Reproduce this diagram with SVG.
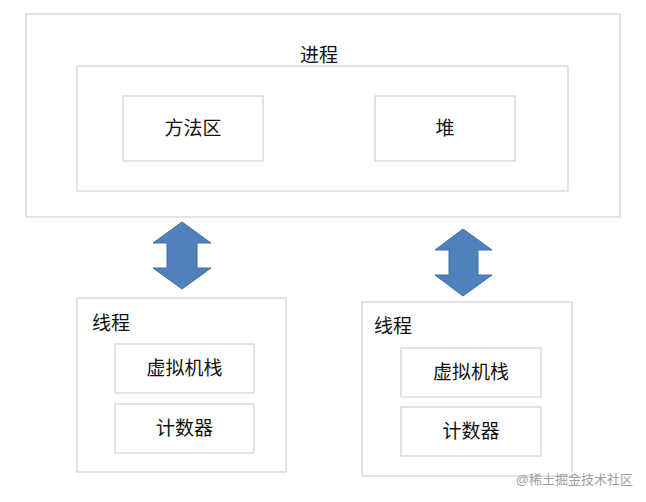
<svg xmlns="http://www.w3.org/2000/svg" width="646" height="502" viewBox="0 0 646 502">
<style>
.b{fill:#fff;stroke:#c8c8c8;stroke-width:1}
.t{font-family:"Liberation Sans","Noto Sans CJK SC",sans-serif;font-size:19px;fill:#111}
.ar{fill:#4f81bd;stroke:#41719c;stroke-width:1}
</style>
<rect width="646" height="502" fill="#fff"/>
<g id="process"><rect class="b" x="26" y="14" width="594" height="203"/><text class="t" x="319" y="62" text-anchor="middle">进程</text></g>
<g id="shared"><rect class="b" x="77" y="66" width="491" height="125"/></g>
<g id="method"><rect class="b" x="123" y="96" width="140" height="65"/><text class="t" x="193" y="135" text-anchor="middle">方法区</text></g>
<g id="heap"><rect class="b" x="375" y="96" width="140" height="65"/><text class="t" x="445" y="135" text-anchor="middle">堆</text></g>
<g id="connectors">
<path class="ar" d="M182,222 L211,243 L197,243 L197,268 L211,268 L182,289 L153,268 L167,268 L167,243 L153,243 Z"/>
<path class="ar" d="M463,229 L492,250 L478,250 L478,275 L492,275 L463,296 L435,275 L449,275 L449,250 L435,250 Z"/>
</g>
<g id="thread1"><rect class="b" x="77" y="298" width="209" height="174"/><text class="t" x="92" y="330">线程</text></g>
<g id="vms1"><rect class="b" x="115" y="344" width="139" height="49"/><text class="t" x="184.5" y="375" text-anchor="middle">虚拟机栈</text></g>
<g id="pc1"><rect class="b" x="115" y="404" width="139" height="49"/><text class="t" x="184.5" y="435" text-anchor="middle">计数器</text></g>
<g id="thread2"><rect class="b" x="362" y="302" width="210" height="174"/><text class="t" x="374" y="333">线程</text></g>
<g id="vms2"><rect class="b" x="401" y="348" width="140" height="49"/><text class="t" x="471" y="379" text-anchor="middle">虚拟机栈</text></g>
<g id="pc2"><rect class="b" x="401" y="407" width="140" height="49"/><text class="t" x="471" y="438" text-anchor="middle">计数器</text></g>
<text x="633" y="484" text-anchor="end" style="font-family:'Liberation Sans','Noto Sans CJK SC',sans-serif;font-size:13px;fill:#a0a0a0">@稀土掘金技术社区</text>
</svg>
